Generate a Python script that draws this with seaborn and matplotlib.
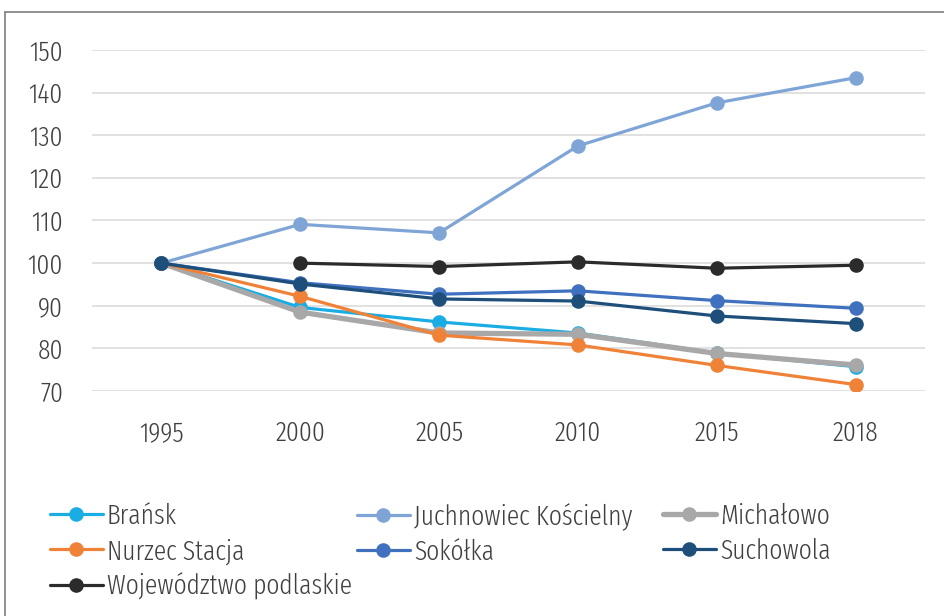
import pandas as pd
import numpy as np
import seaborn as sns
import matplotlib.pyplot as plt
from matplotlib.lines import Line2D

years = ['1995', '2000', '2005', '2010', '2015', '2018']
gminy = ['Brańsk', 'Juchnowiec Kościelny', 'Michałowo', 'Nurzec Stacja',
         'Sokółka', 'Suchowola', 'Województwo podlaskie']

bransk = [100, 89.6, 86.2, 83.6, 78.9, 75.7]
juchnowiec = [100, 109.1, 107.1, 127.5, 137.6, 143.5]
michalowo = [100, 88.5, 83.6, 83.3, 78.8, 76.1]
nurzec = [100, 92.2, 83.1, 80.8, 76.0, 71.5]
sokolka = [100, 95.4, 92.7, 93.5, 91.2, 89.4]
suchowola = [100, 95.1, 91.6, 91.1, 87.6, 85.8]
wojewodztwo = [np.nan, 100.0, 99.2, 100.3, 98.8, 99.5]

colors = ['#1AADE4', '#7FA5D7', '#A8A8A8', '#F08238', '#3F71BE', '#1E4F7B', '#2B2B2B']
widths = [2.3, 2.3, 3.8, 2.3, 2.3, 2.3, 2.3]

series = [bransk, juchnowiec, michalowo, nurzec, sokolka, suchowola, wojewodztwo]
df = pd.DataFrame({
    'rok': years * len(gminy),
    'gmina': np.repeat(gminy, len(years)),
    'wartosc': np.concatenate(series),
})

sns.set_style('white')
plt.rcParams['font.family'] = ['Fira Sans Extra Condensed', 'DejaVu Sans']
plt.rcParams['font.weight'] = 300
txt = '#404040'
fs = 20
ms = 10.5

fig, ax = plt.subplots(figsize=(9.45, 6.16), dpi=100)
fig.subplots_adjust(left=0.0974, right=0.9788, top=0.9188, bottom=0.3653)

sns.lineplot(data=df, x='rok', y='wartosc', hue='gmina', hue_order=gminy,
             palette=dict(zip(gminy, colors)), size='gmina', size_order=gminy,
             sizes=dict(zip(gminy, widths)), marker='o', markersize=ms,
             markeredgewidth=0, legend=False, sort=False, ax=ax)

ax.set_xlim(-0.5, len(years) - 0.5)
ax.set_ylim(70, 150)
ax.set_yticks(range(70, 151, 10))
ax.grid(axis='y', color='#D9D9D9', linewidth=1.1)
ax.set_axisbelow(True)
for s in ax.spines.values():
    s.set_visible(False)
ax.tick_params(axis='y', length=0, pad=21, labelsize=fs, labelcolor=txt)
ax.tick_params(axis='x', length=0, pad=21, labelsize=fs, labelcolor=txt)
ax.set_xlabel('')
ax.set_ylabel('')

# legend: three columns placed where the original puts them, filled row by row
columns = [[0, 3, 6], [1, 4], [2, 5]]
col_x = [50 / 945, 357 / 945, 663 / 945]
for idx, x0 in zip(columns, col_x):
    handles = [Line2D([], [], color=colors[i], lw=widths[i], marker='o', markersize=ms,
                      markeredgewidth=0) for i in idx]
    leg = fig.legend(handles, [gminy[i] for i in idx], loc='upper left',
                     bbox_to_anchor=(x0, 1 - 503 / 616), frameon=False, fontsize=fs,
                     labelcolor=txt, handlelength=1.9, handletextpad=0.15,
                     labelspacing=0.3, borderaxespad=0, borderpad=0)

# frame lines of the original box (top and left)
fig.add_artist(Line2D([5 / 945, 1], [1 - 12 / 616] * 2, color='#7F7F7F', lw=1.2))
fig.add_artist(Line2D([5 / 945] * 2, [0, 1 - 12 / 616], color='#7F7F7F', lw=1.2))

fig.savefig('out.png', dpi=100)
